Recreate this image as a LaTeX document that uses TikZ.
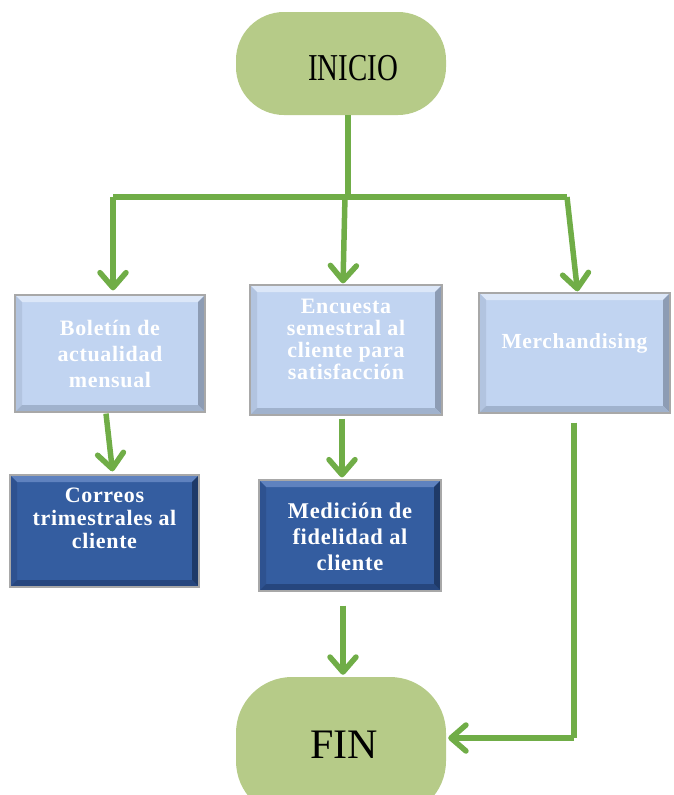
\documentclass[tikz,border=0pt]{standalone}
\usepackage{fontspec}
\usepackage{graphicx}
\setmainfont{Liberation Serif}
\newfontfamily\boxfont[LetterSpace=3]{Liberation Serif}
\usetikzlibrary{arrows.meta}
\definecolor{termfill}{HTML}{B6CB88}
\definecolor{flow}{HTML}{70AD47}
\definecolor{lightfill}{HTML}{C1D4F1}
\definecolor{lighttop}{HTML}{DCE7F8}
\definecolor{lightleft}{HTML}{B2C4E0}
\definecolor{lightright}{HTML}{8D9CB4}
\definecolor{lightbot}{HTML}{A0B2CD}
\definecolor{darkfill}{HTML}{345DA0}
\definecolor{darktop}{HTML}{5F82BF}
\definecolor{darkleft}{HTML}{2E5290}
\definecolor{darkright}{HTML}{1F3A68}
\definecolor{darkbot}{HTML}{26467E}
\definecolor{rim}{HTML}{A8A8A8}
\newcommand\mybevel[4]{%
  \fill[#1] (path picture bounding box.north west) -- (path picture bounding box.north east)
    -- ([shift={(-7pt,-7pt)}]path picture bounding box.north east)
    -- ([shift={(7pt,-7pt)}]path picture bounding box.north west) -- cycle;
  \fill[#2] (path picture bounding box.north west) -- ([shift={(7pt,-7pt)}]path picture bounding box.north west)
    -- ([shift={(7pt,7pt)}]path picture bounding box.south west)
    -- (path picture bounding box.south west) -- cycle;
  \fill[#3] (path picture bounding box.north east) -- ([shift={(-7pt,-7pt)}]path picture bounding box.north east)
    -- ([shift={(-7pt,7pt)}]path picture bounding box.south east)
    -- (path picture bounding box.south east) -- cycle;
  \fill[#4] (path picture bounding box.south west) -- ([shift={(7pt,7pt)}]path picture bounding box.south west)
    -- ([shift={(-7pt,7pt)}]path picture bounding box.south east)
    -- (path picture bounding box.south east) -- cycle;}
\begin{document}
\begin{tikzpicture}[x=1pt,y=-1pt,
  term/.style={fill=termfill, rounded corners=48pt, minimum width=210pt, inner sep=0pt},
  lightbox/.style={draw=rim, line width=1.2pt, fill=lightfill, inner sep=0pt,
    path picture={\mybevel{lighttop}{lightleft}{lightright}{lightbot}}},
  darkbox/.style={draw=rim, line width=1.2pt, fill=darkfill, inner sep=0pt,
    path picture={\mybevel{darktop}{darkleft}{darkright}{darkbot}}},
  boxtext/.style={text=white, align=center, inner sep=0pt,
    font={\boxfont\bfseries\fontsize{22}{26}\selectfont}},
  flowline/.style={draw=flow, line width=5.5pt},
  arr/.style={flowline, -{Straight Barb[length=15pt,width=26pt,round]}}
]
\useasboundingbox (0,0) rectangle (673,795);
\clip (0,0) rectangle (673,795);

% terminals
\node[term, minimum height=103pt] (inicio) at (341,63.5) {};
\node (tinicio) at (353,68) {\scalebox{0.76}[1]{\fontsize{38}{40}\selectfont INICIO}};
\node[term, minimum height=140pt, rounded corners=56pt] (fin) at (341,747) {};
\node (tfin) at (344,745) {\fontsize{42}{44}\selectfont FIN};

% process boxes
\node[lightbox, minimum width=190pt, minimum height=117pt] (bol) at (110,353.5) {};
\node[boxtext] (tbol) at (110,354) {Boletín de\\actualidad\\mensual};
\node[lightbox, minimum width=192pt, minimum height=130pt] (enc) at (346,350) {};
\node[boxtext, font={\boxfont\bfseries\fontsize{22}{22}\selectfont}] (tenc) at (346,339) {Encuesta\\semestral al\\cliente para\\satisfacción};
\node[lightbox, minimum width=191pt, minimum height=120pt] (mer) at (574.5,353) {};
\node[boxtext, font={\boxfont\bfseries\fontsize{21.5}{24}\selectfont}] (tmer) at (574.5,343) {Merchandising};
\node[darkbox, minimum width=189pt, minimum height=112pt] (cor) at (104.5,531) {};
\node[boxtext, font={\boxfont\bfseries\fontsize{22}{23}\selectfont}] (tcor) at (104.5,518) {Correos\\trimestrales al\\cliente};
\node[darkbox, minimum width=182pt, minimum height=111pt] (med) at (350,535.5) {};
\node[boxtext, font={\boxfont\bfseries\fontsize{22.5}{26}\selectfont}] (tmed) at (350,537) {Medición de\\fidelidad al\\cliente};

% connectors
\coordinate (jm) at (348,196);
\coordinate (jl) at (113,197);
\coordinate (jr) at (567,197);
\coordinate (mbot) at (574,738);
\draw[flowline] (inicio.south -| jm) -- (jm);
\draw[flowline] (jl) -- (jr);
\draw[arr] (jl) -- ([yshift=4pt]bol.north -| jl);
\draw[arr] (345,196) -- ([xshift=-3pt,yshift=1pt]enc.north);
\draw[arr] (jr) -- ([xshift=3pt,yshift=1pt]mer.north);
\draw[arr] ([xshift=-4pt,yshift=-1pt]bol.south) -- ([xshift=8pt,yshift=3pt]cor.north);
\draw[arr] ([xshift=-4pt,yshift=-3pt]enc.south) -- ([xshift=-8pt,yshift=2pt]med.north);
\draw[arr] ([xshift=-7pt,yshift=-14pt]med.south) -- ([xshift=2pt,yshift=2pt]fin.north);
\draw[flowline] ([yshift=-9pt]mer.south -| mbot) -- (mbot);
\draw[arr] (mbot) -- ([xshift=2pt]fin.east |- mbot);
\end{tikzpicture}
\end{document}
